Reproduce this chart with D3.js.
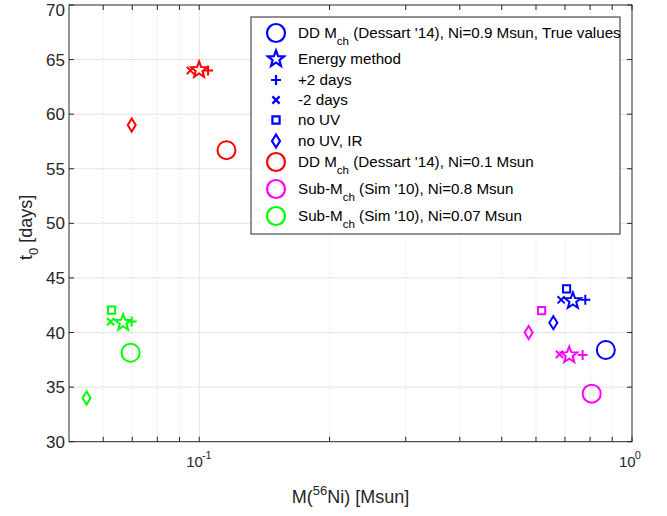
<!DOCTYPE html>
<html><head><meta charset="utf-8">
<script src="https://cdn.jsdelivr.net/npm/d3@7"></script>
<style>body{margin:0;background:#fff}svg text{font-family:"Liberation Sans",Arial,Helvetica,sans-serif}</style>
</head><body><svg id="chart" width="667" height="516"></svg>
<script>
// Light-curve methods (marker per method)
const methodNames = ["True values", "Energy method", "+2 days", "-2 days", "no UV", "no UV, IR"];
const methodMarkers = ["circle", "star", "plus", "cross", "square", "diamond"];

// [M(56Ni) in Msun, t0 in days], one entry per method in methodNames order
const ddNi09  = [[0.87, 38.4], [0.73, 42.9], [0.78, 43.0], [0.686, 43.0], [0.706, 44.0], [0.658, 40.9]];
const ddNi01  = [[0.1156, 56.7], [0.0999, 64.05], [0.1048, 64.0], [0.0954, 64.0], null, [0.0698, 59.0]];
const subNi08 = [[0.807, 34.4], [0.716, 37.94], [0.769, 37.94], [0.680, 38.0], [0.618, 42.0], [0.577, 40.0]];
const subNi007 = [[0.0694, 38.15], [0.0667, 40.9], [0.0698, 41.0], [0.0624, 41.0], [0.0627, 42.06], [0.0549, 34.0]];

const seriesData = [ddNi09, ddNi01, subNi08, subNi007];
const seriesColors = ["#0000ff", "#ff0000", "#ff00ff", "#00ff00"];
// legend text pieces: [before subscript, subscript, after subscript]
const seriesLabels = [
  ["DD M", "ch", " (Dessart '14), Ni=0.9 Msun, True values"],
  ["DD M", "ch", " (Dessart '14), Ni=0.1 Msun"],
  ["Sub-M", "ch", " (Sim '10), Ni=0.8 Msun"],
  ["Sub-M", "ch", " (Sim '10), Ni=0.07 Msun"]
];

const xDomain = [0.05, 1];
const yDomain = [30, 70];
const xMajorTicks = [0.1, 1];
const xTickExponents = ["-1", "0"];
const xMinorTicks = [0.06, 0.07, 0.08, 0.09, 0.2, 0.3, 0.4, 0.5, 0.6, 0.7, 0.8, 0.9];
const yTicks = [30, 35, 40, 45, 50, 55, 60, 65, 70];

const svg = d3.select("#chart");
const L = 69, R = 632, T = 5, B = 441.7;
const x = d3.scaleLog().domain(xDomain).range([L, R]);
const y = d3.scaleLinear().domain(yDomain).range([B, T]);
const axisColor = "#262626";

// grid
const grid = svg.append("g");
grid.selectAll(".ym").data(yTicks.filter(v => v > 30 && v < 70)).join("line")
  .attr("x1", L).attr("x2", R).attr("y1", d => y(d)).attr("y2", d => y(d))
  .attr("stroke", "#e3e3e3").attr("stroke-width", 1);
grid.selectAll(".xm").data(xMinorTicks).join("line")
  .attr("x1", d => x(d)).attr("x2", d => x(d)).attr("y1", T).attr("y2", B)
  .attr("stroke", "#d6d6d6").attr("stroke-width", 1).attr("stroke-dasharray", "1,3");
grid.selectAll(".xM").data(xMajorTicks.filter(v => v < 1)).join("line")
  .attr("x1", d => x(d)).attr("x2", d => x(d)).attr("y1", T).attr("y2", B)
  .attr("stroke", "#e3e3e3").attr("stroke-width", 1);

// axes box with inward ticks on all four sides
const ax = svg.append("g").attr("stroke", axisColor).attr("stroke-width", 1).attr("fill", "none");
ax.append("rect").attr("x", L).attr("y", T).attr("width", R - L).attr("height", B - T);
const tk = 5;
yTicks.forEach(v => {
  ax.append("line").attr("x1", L).attr("x2", L + tk).attr("y1", y(v)).attr("y2", y(v));
  ax.append("line").attr("x1", R).attr("x2", R - tk).attr("y1", y(v)).attr("y2", y(v));
});
xMajorTicks.concat(xMinorTicks).forEach(v => {
  ax.append("line").attr("x1", x(v)).attr("x2", x(v)).attr("y1", B).attr("y2", B - tk);
  ax.append("line").attr("x1", x(v)).attr("x2", x(v)).attr("y1", T).attr("y2", T + tk);
});

// tick labels (top label nudged to stay inside the page)
svg.selectAll(".yl").data(yTicks).join("text")
  .attr("x", L - 4).attr("y", d => Math.max(y(d) + 6, 15.5)).attr("text-anchor", "end")
  .attr("font-size", 17).attr("fill", axisColor).text(d => d);
xMajorTicks.forEach((v, i) => {
  const t = svg.append("text").attr("x", x(v) - 13).attr("y", 467)
    .attr("font-size", 15).attr("fill", axisColor);
  t.append("tspan").text("10");
  t.append("tspan").attr("dx", -1).attr("dy", -8).attr("font-size", 11).text(xTickExponents[i]);
});

// axis titles
const xt = svg.append("text").attr("x", (L + R) / 2).attr("y", 503).attr("text-anchor", "middle")
  .attr("font-size", 18).attr("fill", axisColor);
xt.append("tspan").text("M(");
xt.append("tspan").attr("dy", -8).attr("font-size", 13).text("56");
xt.append("tspan").attr("dy", 8).text("Ni) [Msun]");
const yt = svg.append("text").attr("transform", `translate(32,${(T + B) / 2 + 4}) rotate(-90)`)
  .attr("text-anchor", "middle").attr("font-size", 18).attr("fill", axisColor);
yt.append("tspan").text("t");
yt.append("tspan").attr("dy", 6).attr("font-size", 13).text("0");
yt.append("tspan").attr("dy", -6).text(" [days]");

// marker shapes
function starPath(ro) {
  const ri = ro * 0.42, pts = [];
  for (let k = 0; k < 10; k++) {
    const a = -Math.PI / 2 + k * Math.PI / 5, rr = k % 2 ? ri : ro;
    pts.push([rr * Math.cos(a), rr * Math.sin(a)]);
  }
  return "M" + pts.map(p => p.join(",")).join("L") + "Z";
}
function circlePath(r) {
  const p = d3.path();
  p.arc(0, 0, r, 0, 2 * Math.PI);
  return p.toString();
}
const markerPath = {
  circle: circlePath(9),
  star: starPath(8.5),
  plus: "M-5,0L5,0M0,-5L0,5",
  cross: "M-3.6,-3.6L3.6,3.6M-3.6,3.6L3.6,-3.6",
  square: "M-3.6,-3.6H3.6V3.6H-3.6Z",
  diamond: "M0,-6.5L4,0L0,6.5L-4,0Z"
};

// data markers
const marks = svg.append("g").attr("fill", "none").attr("stroke-width", 2);
seriesData.forEach((arr, si) => {
  arr.forEach((d, mi) => {
    if (!d) return;
    marks.append("path").attr("d", markerPath[methodMarkers[mi]])
      .attr("transform", `translate(${x(d[0])},${y(d[1])})`)
      .attr("stroke", seriesColors[si]);
  });
});

// legend
const lg = svg.append("g");
lg.append("rect").attr("x", 251).attr("y", 17).attr("width", 369).attr("height", 217)
  .attr("fill", "#fff").attr("stroke", axisColor).attr("stroke-width", 1);
const rowsY = [33, 59, 80, 100, 120, 141, 162, 189, 216];
const legendEntries = [];
methodMarkers.forEach((m, i) => legendEntries.push({ marker: m, color: seriesColors[0],
  label: i === 0 ? seriesLabels[0] : [methodNames[i]] }));
for (let s = 1; s < 4; s++) legendEntries.push({ marker: "circle", color: seriesColors[s], label: seriesLabels[s] });
legendEntries.forEach((e, i) => {
  const cy = rowsY[i];
  lg.append("path").attr("d", markerPath[e.marker]).attr("transform", `translate(276,${cy})`)
    .attr("fill", "none").attr("stroke", e.color).attr("stroke-width", 2.2);
  const t = lg.append("text").attr("x", 298).attr("y", cy + 5).attr("font-size", 15.2).attr("fill", "#000");
  t.append("tspan").text(e.label[0]);
  if (e.label.length > 1) {
    t.append("tspan").attr("dy", 7).attr("font-size", 11.5).text(e.label[1]);
    t.append("tspan").attr("dy", -7).text(e.label[2]);
  }
});
</script></body></html>
